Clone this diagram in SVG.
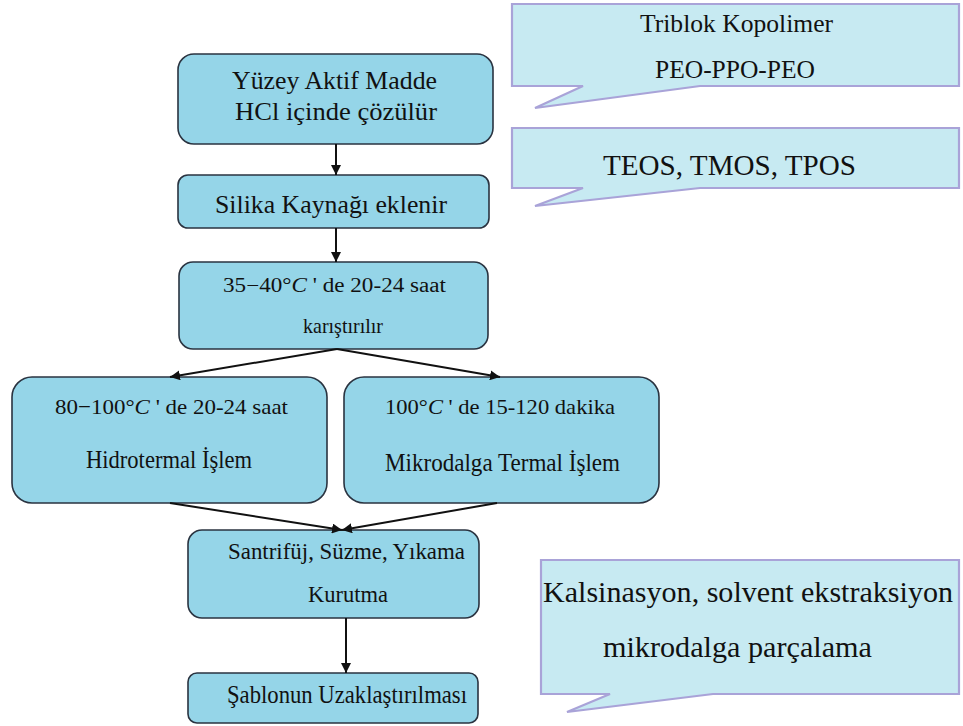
<svg xmlns="http://www.w3.org/2000/svg" width="963" height="726" viewBox="0 0 963 726">
<style>
.node{fill:#95D5E8;stroke:#2a3340;stroke-width:1.6}
.call{fill:#C7EAF2;stroke:#A9A3D8;stroke-width:2.2;stroke-linejoin:miter}
.conn{stroke:#111;stroke-width:2;fill:none}
</style>
<defs>
<marker id="ah" viewBox="0 0 10 10" refX="10" refY="5" markerWidth="10" markerHeight="10" markerUnits="userSpaceOnUse" orient="auto">
<path d="M0,0 L10,5 L0,10 Z" fill="#111"/>
</marker>
</defs>
<rect width="963" height="726" fill="#fff"/>

<g id="callout-triblok">
<path class="call" d="M512,4 H959 V86 H700 L535,108 L583,86 H512 Z"/>
<text x="640" y="32" font-family="Liberation Serif" fill="#111" font-size="25" textLength="193" lengthAdjust="spacingAndGlyphs">Triblok Kopolimer</text>
<text x="655" y="78" font-family="Liberation Serif" fill="#111" font-size="25" textLength="160" lengthAdjust="spacingAndGlyphs">PEO-PPO-PEO</text>
</g>
<g id="callout-teos">
<path class="call" d="M512,128 H959 V188 H700 L535,206 L583,188 H512 Z"/>
<text x="603" y="175" font-family="Liberation Serif" fill="#111" font-size="29" textLength="253" lengthAdjust="spacingAndGlyphs">TEOS, TMOS, TPOS</text>
</g>
<g id="callout-kalsinasyon">
<path class="call" d="M541,560 H959 V694 H713 L567,712 L610,694 H541 Z"/>
<text x="543" y="602" font-family="Liberation Serif" fill="#111" font-size="30" textLength="410" lengthAdjust="spacingAndGlyphs">Kalsinasyon, solvent ekstraksiyon</text>
<text x="603" y="657" font-family="Liberation Serif" fill="#111" font-size="30" textLength="269" lengthAdjust="spacingAndGlyphs">mikrodalga parçalama</text>
</g>

<g id="node-yuzey">
<rect class="node" x="178" y="54" width="315" height="90" rx="16"/>
<text x="232" y="89" font-family="Liberation Serif" fill="#111" font-size="25" textLength="205" lengthAdjust="spacingAndGlyphs">Yüzey Aktif Madde</text>
<text x="235" y="120" font-family="Liberation Serif" fill="#111" font-size="25" textLength="202" lengthAdjust="spacingAndGlyphs">HCl içinde çözülür</text>
</g>
<g id="node-silika">
<rect class="node" x="178" y="175" width="311" height="53" rx="10"/>
<text x="215" y="213" font-family="Liberation Serif" fill="#111" font-size="25" textLength="232" lengthAdjust="spacingAndGlyphs">Silika Kaynağı eklenir</text>
</g>
<g id="node-karistirilir">
<rect class="node" x="179" y="262" width="309" height="87" rx="14"/>
<text x="223" y="292" font-family="Liberation Serif" fill="#111" font-size="20" textLength="223" lengthAdjust="spacingAndGlyphs">35−40°<tspan font-style="italic">C</tspan>   ' de 20-24 saat</text>
<text x="303" y="333" font-family="Liberation Serif" fill="#111" font-size="21" textLength="80" lengthAdjust="spacingAndGlyphs">karıştırılır</text>
</g>
<g id="node-hidrotermal">
<rect class="node" x="12" y="377" width="315" height="126" rx="20"/>
<text x="55" y="414" font-family="Liberation Serif" fill="#111" font-size="22" textLength="233" lengthAdjust="spacingAndGlyphs">80−100°<tspan font-style="italic">C</tspan>   ' de 20-24 saat</text>
<text x="86" y="468" font-family="Liberation Serif" fill="#111" font-size="26" textLength="166" lengthAdjust="spacingAndGlyphs">Hidrotermal İşlem</text>
</g>
<g id="node-mikrodalga">
<rect class="node" x="344" y="377" width="315" height="126" rx="20"/>
<text x="385" y="414" font-family="Liberation Serif" fill="#111" font-size="22" textLength="230" lengthAdjust="spacingAndGlyphs">100°<tspan font-style="italic">C</tspan>   ' de 15-120 dakika</text>
<text x="385" y="471" font-family="Liberation Serif" fill="#111" font-size="26" textLength="235" lengthAdjust="spacingAndGlyphs">Mikrodalga Termal İşlem</text>
</g>
<g id="node-santrifuj">
<rect class="node" x="188" y="530" width="291" height="88" rx="14"/>
<text x="228" y="559" font-family="Liberation Serif" fill="#111" font-size="24" textLength="237" lengthAdjust="spacingAndGlyphs">Santrifüj, Süzme, Yıkama</text>
<text x="308" y="602" font-family="Liberation Serif" fill="#111" font-size="24" textLength="80" lengthAdjust="spacingAndGlyphs">Kurutma</text>
</g>
<g id="node-sablon">
<rect class="node" x="188" y="673" width="290" height="50" rx="9"/>
<text x="227" y="703" font-family="Liberation Serif" fill="#111" font-size="25" textLength="240" lengthAdjust="spacingAndGlyphs">Şablonun Uzaklaştırılması</text>
</g>

<g id="connectors">
<line class="conn" x1="336" y1="144" x2="336" y2="175" marker-end="url(#ah)"/>
<line class="conn" x1="336" y1="228" x2="336" y2="262" marker-end="url(#ah)"/>
<line class="conn" x1="337" y1="349" x2="170" y2="377" marker-end="url(#ah)"/>
<line class="conn" x1="337" y1="349" x2="500" y2="377" marker-end="url(#ah)"/>
<line class="conn" x1="170" y1="503" x2="342" y2="530" marker-end="url(#ah)"/>
<line class="conn" x1="497" y1="503" x2="342" y2="530" marker-end="url(#ah)"/>
<line class="conn" x1="346" y1="618" x2="346" y2="673" stroke-width="1.4" marker-end="url(#ah)"/>
</g>
</svg>
